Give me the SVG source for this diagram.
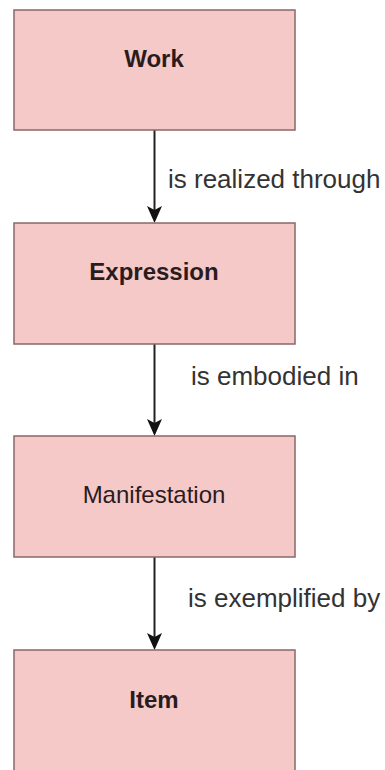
<svg xmlns="http://www.w3.org/2000/svg" width="385" height="770" viewBox="0 0 385 770">
  <style>
    .box { fill: #f6c9c9; stroke: #8a6767; stroke-width: 1.5; }
    .nt { font-family: "Liberation Sans", Arial, sans-serif; font-size: 24px; fill: #2a1c1c; text-anchor: middle; }
    .b { font-weight: bold; }
    .lbl { font-family: "Liberation Sans", Arial, sans-serif; font-size: 26px; fill: #333333; }
    .edge { stroke: #222222; stroke-width: 2; fill: none; }
    .head { fill: #111111; stroke: none; }
  </style>
  <rect width="385" height="770" fill="#ffffff"/>
  <g id="connectors">
    <line class="edge" x1="154.5" y1="130" x2="154.5" y2="212"/>
    <path class="head" d="M154.5,223 L147,206 L154.5,210 L162,206 Z"/>
    <text class="lbl" x="168" y="188">is realized through</text>

    <line class="edge" x1="154.5" y1="344" x2="154.5" y2="425"/>
    <path class="head" d="M154.5,436 L147,419 L154.5,423 L162,419 Z"/>
    <text class="lbl" x="191" y="385">is embodied in</text>

    <line class="edge" x1="154.5" y1="557" x2="154.5" y2="639"/>
    <path class="head" d="M154.5,650 L147,633 L154.5,637 L162,633 Z"/>
    <text class="lbl" x="188" y="607">is exemplified by</text>
  </g>
  <g id="work">
    <rect class="box" x="14" y="10" width="281" height="120"/>
    <text class="nt b" x="154" y="67">Work</text>
  </g>
  <g id="expression">
    <rect class="box" x="14" y="223" width="281" height="121"/>
    <text class="nt b" x="154" y="280">Expression</text>
  </g>
  <g id="manifestation">
    <rect class="box" x="14" y="436" width="281" height="121"/>
    <text class="nt" x="154" y="503">Manifestation</text>
  </g>
  <g id="item">
    <rect class="box" x="14" y="650" width="281" height="125"/>
    <text class="nt b" x="154" y="708">Item</text>
  </g>
</svg>
